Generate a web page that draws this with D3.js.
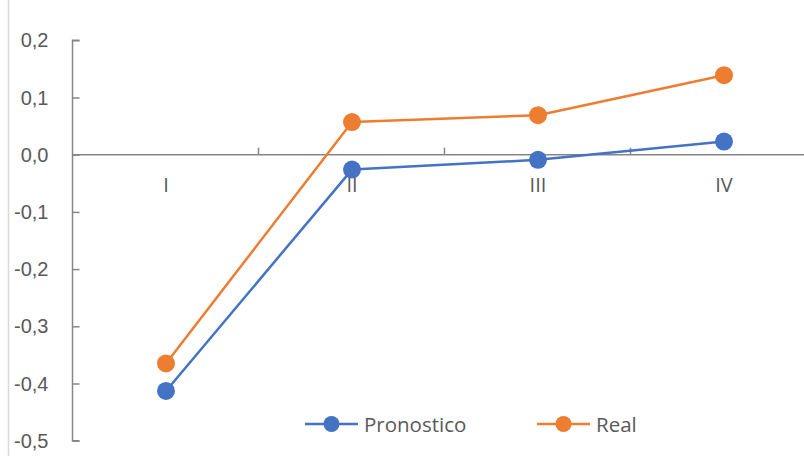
<!DOCTYPE html>
<html>
<head>
<meta charset="utf-8">
<script src="https://cdn.jsdelivr.net/npm/d3@7"></script>
<style>
  html, body { margin: 0; padding: 0; background: #fff; }
  svg { display: block; font-family: "Open Sans", "Noto Sans", sans-serif; }
</style>
</head>
<body>
<svg id="chart" width="804" height="456"></svg>
<script>
// Quarterly values
const categories = ["I", "II", "III", "IV"];
const pronostico = [-0.413, -0.026, -0.009, 0.023];
const real = [-0.365, 0.057, 0.069, 0.139];
const yTicks = [0.2, 0.1, 0.0, -0.1, -0.2, -0.3, -0.4, -0.5];
const seriesNames = ["Pronostico", "Real"];
const seriesColors = ["#4472C4", "#ED7D31"];

const svg = d3.select("#chart");
const W = 804, H = 456;

// chart area border (left edge visible)
svg.append("line")
  .attr("x1", 8.5).attr("x2", 8.5).attr("y1", 0).attr("y2", H)
  .attr("stroke", "#d9d9d9").attr("stroke-width", 1.5);

const x = d3.scaleBand().domain(categories).range([73, 817]);
const y = d3.scaleLinear().domain([-0.5, 0.2]).range([440.7, 40.3]);

const fmt = d => d3.format(".1f")(d).replace(".", ",").replace("−", "-");
const axisColor = "#868686";
const textColor = "#595959";
const fontSize = "20px";

// y axis with inner ticks
const yAxis = svg.append("g")
  .attr("transform", "translate(72.5,0)")
  .call(d3.axisRight(y).tickValues(yTicks).tickSize(7).tickFormat(fmt));
yAxis.select(".domain").attr("stroke", axisColor).attr("stroke-width", 1.5)
  .attr("d", `M7,${y(0.2)}H0V${y(-0.5)}H7`);
yAxis.selectAll(".tick line").attr("stroke", axisColor).attr("stroke-width", 1.5);
yAxis.selectAll(".tick text")
  .attr("x", -24).attr("dy", "0.33em").attr("text-anchor", "end")
  .attr("fill", textColor).style("font-size", fontSize);

// x axis at zero with upward ticks on band boundaries
const xAxisG = svg.append("g").attr("transform", `translate(0,${y(0)})`);
xAxisG.append("line")
  .attr("x1", 72.5).attr("x2", W).attr("y1", 0).attr("y2", 0)
  .attr("stroke", axisColor).attr("stroke-width", 1.5);
xAxisG.selectAll(".xtick")
  .data(categories.slice(1))
  .join("line")
  .attr("x1", d => x(d) - 0.5).attr("x2", d => x(d) - 0.5)
  .attr("y1", 0).attr("y2", -7)
  .attr("stroke", axisColor).attr("stroke-width", 1.5);
xAxisG.selectAll(".xlab")
  .data(categories)
  .join("text")
  .attr("x", d => x(d) + x.bandwidth() / 2)
  .attr("y", 37)
  .attr("text-anchor", "middle")
  .attr("fill", textColor).style("font-size", fontSize)
  .text(d => d);

// series lines and markers
const seriesData = [pronostico, real];
const line = d3.line()
  .x((d, i) => x(categories[i]) + x.bandwidth() / 2)
  .y(d => y(d));

seriesData.forEach((vals, si) => {
  svg.append("path")
    .datum(vals)
    .attr("d", line)
    .attr("fill", "none")
    .attr("stroke", seriesColors[si])
    .attr("stroke-width", 2.5)
    .attr("stroke-linejoin", "round");
  svg.selectAll(".m" + si)
    .data(vals)
    .join("circle")
    .attr("cx", (d, i) => x(categories[i]) + x.bandwidth() / 2)
    .attr("cy", d => y(d))
    .attr("r", 9)
    .attr("fill", seriesColors[si]);
});

// legend
const legendItems = [
  { name: seriesNames[0], color: seriesColors[0], x0: 305 },
  { name: seriesNames[1], color: seriesColors[1], x0: 537 }
];
const ly = 424;
legendItems.forEach(it => {
  const g = svg.append("g");
  g.append("line")
    .attr("x1", it.x0).attr("x2", it.x0 + 53)
    .attr("y1", ly).attr("y2", ly)
    .attr("stroke", it.color).attr("stroke-width", 2.5);
  g.append("circle")
    .attr("cx", it.x0 + 26.5).attr("cy", ly).attr("r", 8)
    .attr("fill", it.color);
  g.append("text")
    .attr("x", it.x0 + 59).attr("y", ly + 8)
    .attr("fill", textColor).style("font-size", "20.5px")
    .text(it.name);
});
</script>
</body>
</html>
